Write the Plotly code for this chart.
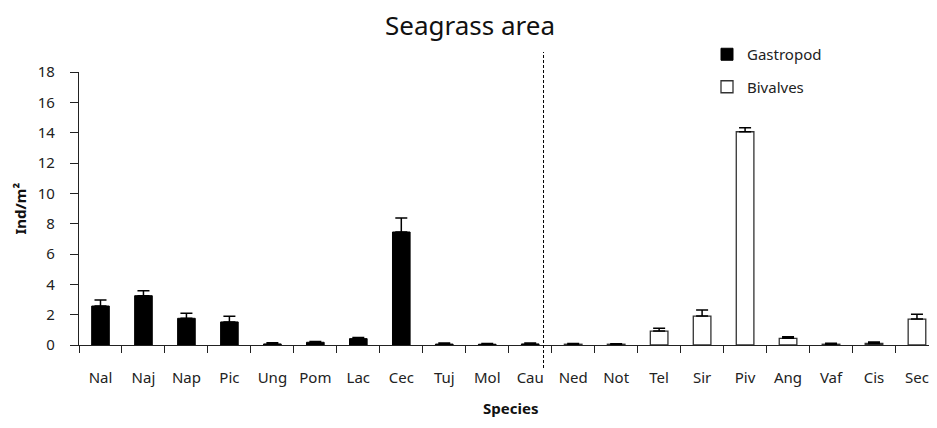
import plotly.graph_objects as go

categories = ["Nal", "Naj", "Nap", "Pic", "Ung", "Pom", "Lac", "Cec", "Tuj", "Mol", "Cau",
              "Ned", "Not", "Tel", "Sir", "Piv", "Ang", "Vaf", "Cis", "Sec"]

gastropod_species = ["Nal", "Naj", "Nap", "Pic", "Ung", "Pom", "Lac", "Cec", "Tuj", "Mol", "Cau"]
gastropod_values = [2.57, 3.25, 1.76, 1.52, 0.07, 0.18, 0.42, 7.45, 0.06, 0.05, 0.07]
gastropod_errors = [0.40, 0.33, 0.33, 0.37, 0.08, 0.05, 0.08, 0.92, 0.07, 0.05, 0.07]

bivalve_species = ["Ned", "Not", "Tel", "Sir", "Piv", "Ang", "Vaf", "Cis", "Sec"]
bivalve_values = [0.05, 0.05, 0.92, 1.91, 14.06, 0.44, 0.05, 0.10, 1.71]
bivalve_errors = [0.05, 0.04, 0.18, 0.40, 0.27, 0.11, 0.07, 0.10, 0.31]

y_ticks = [0, 2, 4, 6, 8, 10, 12, 14, 16, 18]

FONT = "Noto Sans"
OFF = 8  # page body margin
W, H = 937 - 2 * OFF, 428 - 2 * OFF  # figure fits the window without overflow
# plot area in page pixels
P_TOP, P_BOTTOM, P_LEFT, P_RIGHT = 72, 345, 79, 937 - OFF
PLOT_TOP, PLOT_BOTTOM, PLOT_LEFT = P_TOP - OFF, P_BOTTOM - OFF, P_LEFT - OFF
PLOT_W = P_RIGHT - P_LEFT


def py(page_y):
    return (PLOT_BOTTOM - (page_y - OFF)) / (PLOT_BOTTOM - PLOT_TOP)


def px(page_x):
    return ((page_x - OFF) - PLOT_LEFT) / PLOT_W


fig = go.Figure()
fig.add_trace(go.Bar(
    x=gastropod_species, y=gastropod_values, name="Gastropod",
    legendgroup="g",
    marker=dict(color="black", line=dict(color="black", width=1)),
    width=0.41,
    error_y=dict(type="data", array=gastropod_errors, symmetric=False,
                 arrayminus=[0] * len(gastropod_errors),
                 color="black", thickness=1.5, width=6),
))
fig.add_trace(go.Bar(
    x=bivalve_species, y=bivalve_values, name="Bivalves",
    legendgroup="b",
    marker=dict(color="white", line=dict(color="#333333", width=1.3)),
    width=0.41,
    error_y=dict(type="data", array=bivalve_errors, symmetric=False,
                 arrayminus=[0] * len(bivalve_errors),
                 color="black", thickness=1.5, width=6),
))

fig.add_shape(type="line", xref="x", yref="paper", x0=10.31, x1=10.31,
              y0=py(368), y1=py(52),
              line=dict(color="black", width=1, dash="3px,2px"))

fig.update_layout(
    width=W, height=H,
    margin=dict(l=PLOT_LEFT, r=W - PLOT_LEFT - PLOT_W, t=PLOT_TOP, b=H - PLOT_BOTTOM,
                autoexpand=False),
    paper_bgcolor="white", plot_bgcolor="white",
    barmode="overlay",
    font=dict(family=FONT, size=15, color="#222222"),
    showlegend=True,
    legend=dict(xref="container", yref="container", x=(707 - OFF) / W,
                y=1 - (38 - OFF) / H, xanchor="left", yanchor="top",
                font=dict(size=15, color="#222222"),
                bgcolor="rgba(0,0,0,0)", itemwidth=30, tracegroupgap=10),
    xaxis=dict(type="category", categoryorder="array", categoryarray=categories,
               range=[-0.5, 19.28], showline=True, linecolor="#222222", linewidth=1.3,
               ticks="outside", tickson="boundaries", ticklen=7, tickcolor="#222222",
               tickwidth=1.3, showgrid=False, zeroline=False, automargin=False,
               tickfont=dict(size=15, color="#222222"), ticklabelstandoff=19),
    yaxis=dict(range=[0, 18], tickvals=y_ticks, showline=True, linecolor="#222222",
               linewidth=1.3, ticks="outside", ticklen=8, tickcolor="#222222", tickwidth=1.3,
               showgrid=False, zeroline=False, automargin=False,
               tickfont=dict(size=15, color="#222222"), ticklabelstandoff=12),
    annotations=[
        dict(text="Seagrass area", xref="paper", yref="paper", x=px(469.5),
             y=py(25), xanchor="center", yanchor="middle", showarrow=False,
             font=dict(size=26, color="#111111", family=FONT)),
        dict(text="<b>Species</b>", xref="paper", yref="paper", x=px(510),
             y=py(408), xanchor="center", yanchor="middle", showarrow=False,
             font=dict(size=15, color="#111111", family=FONT)),
        dict(text="<b>Ind/m²</b>", xref="paper", yref="paper", x=px(19),
             y=0.5, xanchor="center", yanchor="middle", textangle=-90, showarrow=False,
             font=dict(size=15, color="#111111", family=FONT)),
    ],
)

fig.write_html("out.html")
